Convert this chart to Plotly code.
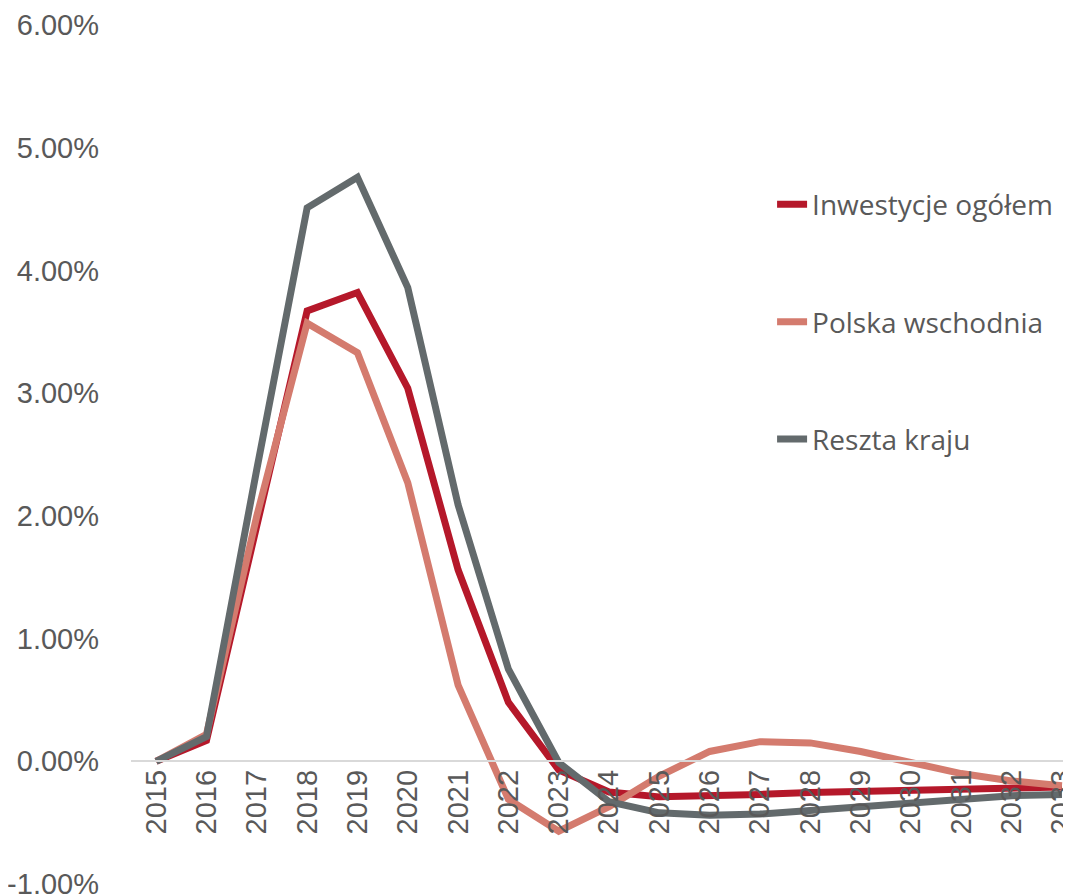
import plotly.graph_objects as go

years = [str(y) for y in range(2015, 2034)]

inwestycje_ogolem = [0.00, 0.17, 1.92, 3.67, 3.82, 3.04, 1.56, 0.48, -0.07, -0.25,
                     -0.29, -0.285, -0.27, -0.255, -0.245, -0.24, -0.23, -0.22, -0.21]
polska_wschodnia = [0.00, 0.22, 2.00, 3.57, 3.33, 2.27, 0.62, -0.31, -0.57, -0.37,
                    -0.12, 0.08, 0.16, 0.15, 0.08, -0.01, -0.10, -0.16, -0.20]
reszta_kraju = [0.00, 0.20, 2.38, 4.51, 4.76, 3.86, 2.09, 0.75, -0.01, -0.33,
                -0.42, -0.44, -0.43, -0.40, -0.37, -0.34, -0.31, -0.28, -0.27]

series_names = ["Inwestycje ogółem", "Polska wschodnia", "Reszta kraju"]
series_values = [inwestycje_ogolem, polska_wschodnia, reszta_kraju]
series_colors = ["#B5182A", "#D47B6E", "#636A6C"]

y_tickvals = [-1, 0, 1, 2, 3, 4, 5, 6]
y_ticktext = ["-1.00%", "0.00%", "1.00%", "2.00%", "3.00%", "4.00%", "5.00%", "6.00%"]

text_color = "#595959"
y_min, y_max = -1, 6

fig = go.Figure()
for name, vals, col in zip(series_names, series_values, series_colors):
    fig.add_trace(go.Scatter(
        x=years, y=vals, mode="lines", name=name, legendgroup=name,
        line=dict(color=col, width=7, shape="linear"),
        hoverinfo="skip",
    ))

# page body has an 8px margin, so the figure is sized/offset to compensate
fig.update_layout(
    width=1063, height=888,
    margin=dict(l=123, r=0, t=17, b=12, autoexpand=False),
    paper_bgcolor="white", plot_bgcolor="white",
    font=dict(family="Liberation Sans Narrow, Liberation Sans, Arial", color=text_color, size=28),
    showlegend=True,
    legend=dict(
        x=0.682, y=0.82, xanchor="left", yanchor="top",
        font=dict(family="Open Sans", size=28, color=text_color),
        tracegroupgap=78, bgcolor="rgba(0,0,0,0)",
        traceorder="grouped",
    ),
    xaxis=dict(
        type="category", range=[-0.5, 18.18], automargin=False,
        anchor="free", position=(0 - y_min) / (y_max - y_min),
        showgrid=False, zeroline=False,
        showline=True, linecolor="#D9D9D9", linewidth=2,
        ticks="", tickangle=-90,
        tickfont=dict(family="Liberation Sans", size=29, color=text_color),
        ticklabelstandoff=-4, ticklabeloverflow="allow",
    ),
    yaxis=dict(
        range=[y_min, y_max], automargin=False,
        showgrid=False, zeroline=False, showline=False,
        tickvals=y_tickvals, ticktext=y_ticktext, ticks="",
        tickfont=dict(family="Liberation Sans Narrow, Liberation Sans", size=29, color=text_color),
        ticklabelstandoff=31, ticklabeloverflow="allow",
    ),
)

fig.write_html("out.html")
